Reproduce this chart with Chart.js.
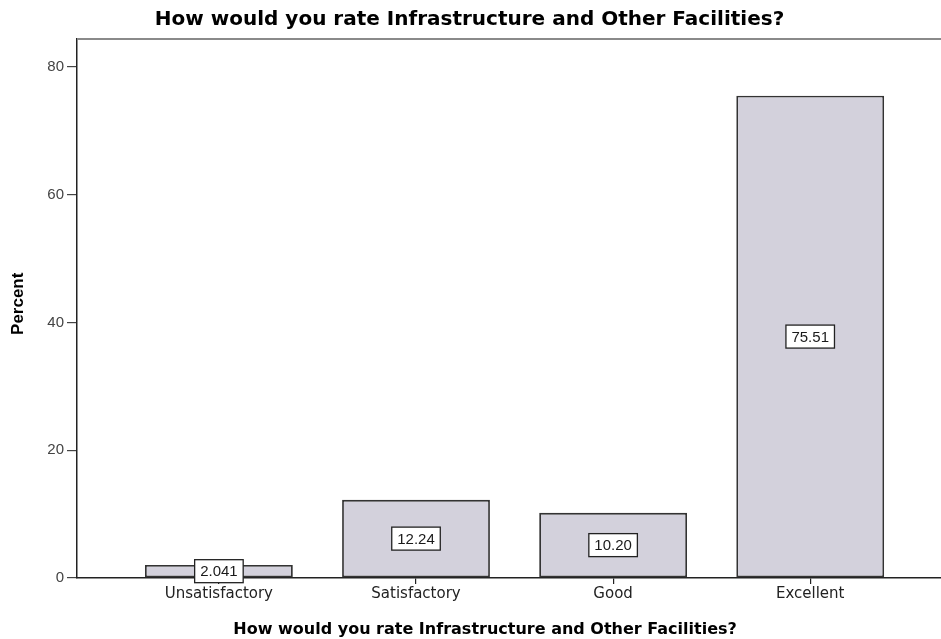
<!DOCTYPE html>
<html>
<head>
<meta charset="utf-8">
<script src="https://cdn.jsdelivr.net/npm/chart.js@4.4.1/dist/chart.umd.min.js"></script>
<style>
    html, body { margin: 0; padding: 0; background: #fff; overflow: hidden; }
    #wrap { width: 960px; height: 639px; }
</style>
</head>
<body>
<div id="wrap"><canvas id="chart" width="960" height="639"></canvas></div>
<script>
/* Data */
const categories = ['Unsatisfactory', 'Satisfactory', 'Good', 'Excellent'];
const percents = [2.041, 12.24, 10.20, 75.51];
const percentLabels = ['2.041', '12.24', '10.20', '75.51'];
const yTicks = [0, 20, 40, 60, 80];

const chartTitle = 'How would you rate Infrastructure and Other Facilities?';


/*
 * Draw the boxed value labels in the middle of each bar
 */
const valueBoxes = {
    id: 'valueBoxes',
    afterDatasetsDraw: function(chart) {
        const ctx = chart.ctx;
        const meta = chart.getDatasetMeta(0);
        ctx.save();
        ctx.font = '15px "Liberation Sans", Arial, sans-serif';
        ctx.textAlign = 'center';
        ctx.textBaseline = 'middle';
        meta.data.forEach(function(bar, i) {
            const text = percentLabels[i];
            const mid = (bar.y + bar.base) / 2;
            const w = ctx.measureText(text).width + 11;
            const h = 23;
            ctx.fillStyle = '#ffffff';
            ctx.fillRect(bar.x - w / 2, mid - h / 2, w, h);
            ctx.strokeStyle = '#222222';
            ctx.lineWidth = 1.3;
            ctx.strokeRect(bar.x - w / 2, mid - h / 2, w, h);
            ctx.fillStyle = '#1a1a1a';
            ctx.fillText(text, bar.x, mid + 1);
        });
        ctx.restore();
    }
};

/*
 * Grey frame line along the top of the plot area
 */
const plotFrame = {
    id: 'plotFrame',
    beforeDatasetsDraw: function(chart) {
        const a = chart.chartArea;
        const ctx = chart.ctx;
        ctx.save();
        ctx.strokeStyle = '#8a8a8a';
        ctx.lineWidth = 2;
        ctx.beginPath();
        ctx.moveTo(a.left, a.top);
        ctx.lineTo(a.right, a.top);
        ctx.stroke();
        ctx.restore();
    }
};

new Chart(document.getElementById('chart'), {
    type: 'bar',
    data: {
        datasets: [{
            data: percents.map(function(v, i) { return {x: i, y: v}; }),
            backgroundColor: '#d3d1dc',
            borderColor: '#333333',
            borderWidth: 1.8,
            borderSkipped: false,
            categoryPercentage: 1.0,
            barPercentage: 0.75,
        }]
    },
    options: {
        responsive: false,
        animation: false,
        layout: {padding: 0},
        plugins: {
            legend: {display: false},
            tooltip: {enabled: false},
            title: {
                display: true,
                // trailing spaces nudge the centred title a little to the left
                text: chartTitle + '   ',
                color: '#000',
                font: {family: '"DejaVu Sans", Verdana, sans-serif', size: 20, weight: 'bold'},
                padding: {top: 8, bottom: 7},
            },
        },
        scales: {
            x: {
                type: 'linear',
                offset: false,
                min: -0.72,
                max: 3.76,
                afterBuildTicks: function(scale) {
                    scale.ticks = categories.map(function(c, i) { return {value: i}; });
                },
                afterFit: function(scale) { scale.height = 61; },
                grid: {display: true, offset: false, drawOnChartArea: false, tickLength: 6, color: '#222', lineWidth: 1.2},
                border: {display: true, color: '#222', width: 1.5},
                ticks: {
                    includeBounds: false,
                    color: '#222',
                    font: {family: '"DejaVu Sans", Verdana, sans-serif', size: 15},
                    padding: 1,
                    callback: function(value) { return categories[value]; },
                },
                title: {
                    display: true,
                    // trailing spaces keep the axis title under the bars, as in SPSS
                    text: chartTitle + '            ',
                    color: '#000',
                    font: {family: '"DejaVu Sans", Verdana, sans-serif', size: 16, weight: 'bold'},
                    padding: {top: 5, bottom: 0},
                },
            },
            y: {
                min: 0,
                max: 84.4,
                afterBuildTicks: function(scale) {
                    scale.ticks = yTicks.map(function(v) { return {value: v}; });
                },
                afterFit: function(scale) { scale.width = 77; },
                grid: {display: true, drawOnChartArea: false, tickLength: 10, color: '#444', lineWidth: 1.2},
                border: {display: true, color: '#222', width: 1.5},
                ticks: {
                    includeBounds: false,
                    color: '#444',
                    font: {family: '"Liberation Sans", Arial, sans-serif', size: 15},
                    padding: 3,
                },
                title: {
                    display: true,
                    text: '  Percent',
                    color: '#000',
                    font: {family: '"Liberation Sans", Arial, sans-serif', size: 17, weight: 'bold'},
                    padding: {top: 8, bottom: 4},
                },
            },
        },
    },
    plugins: [plotFrame, valueBoxes],
});
</script>
</body>
</html>
